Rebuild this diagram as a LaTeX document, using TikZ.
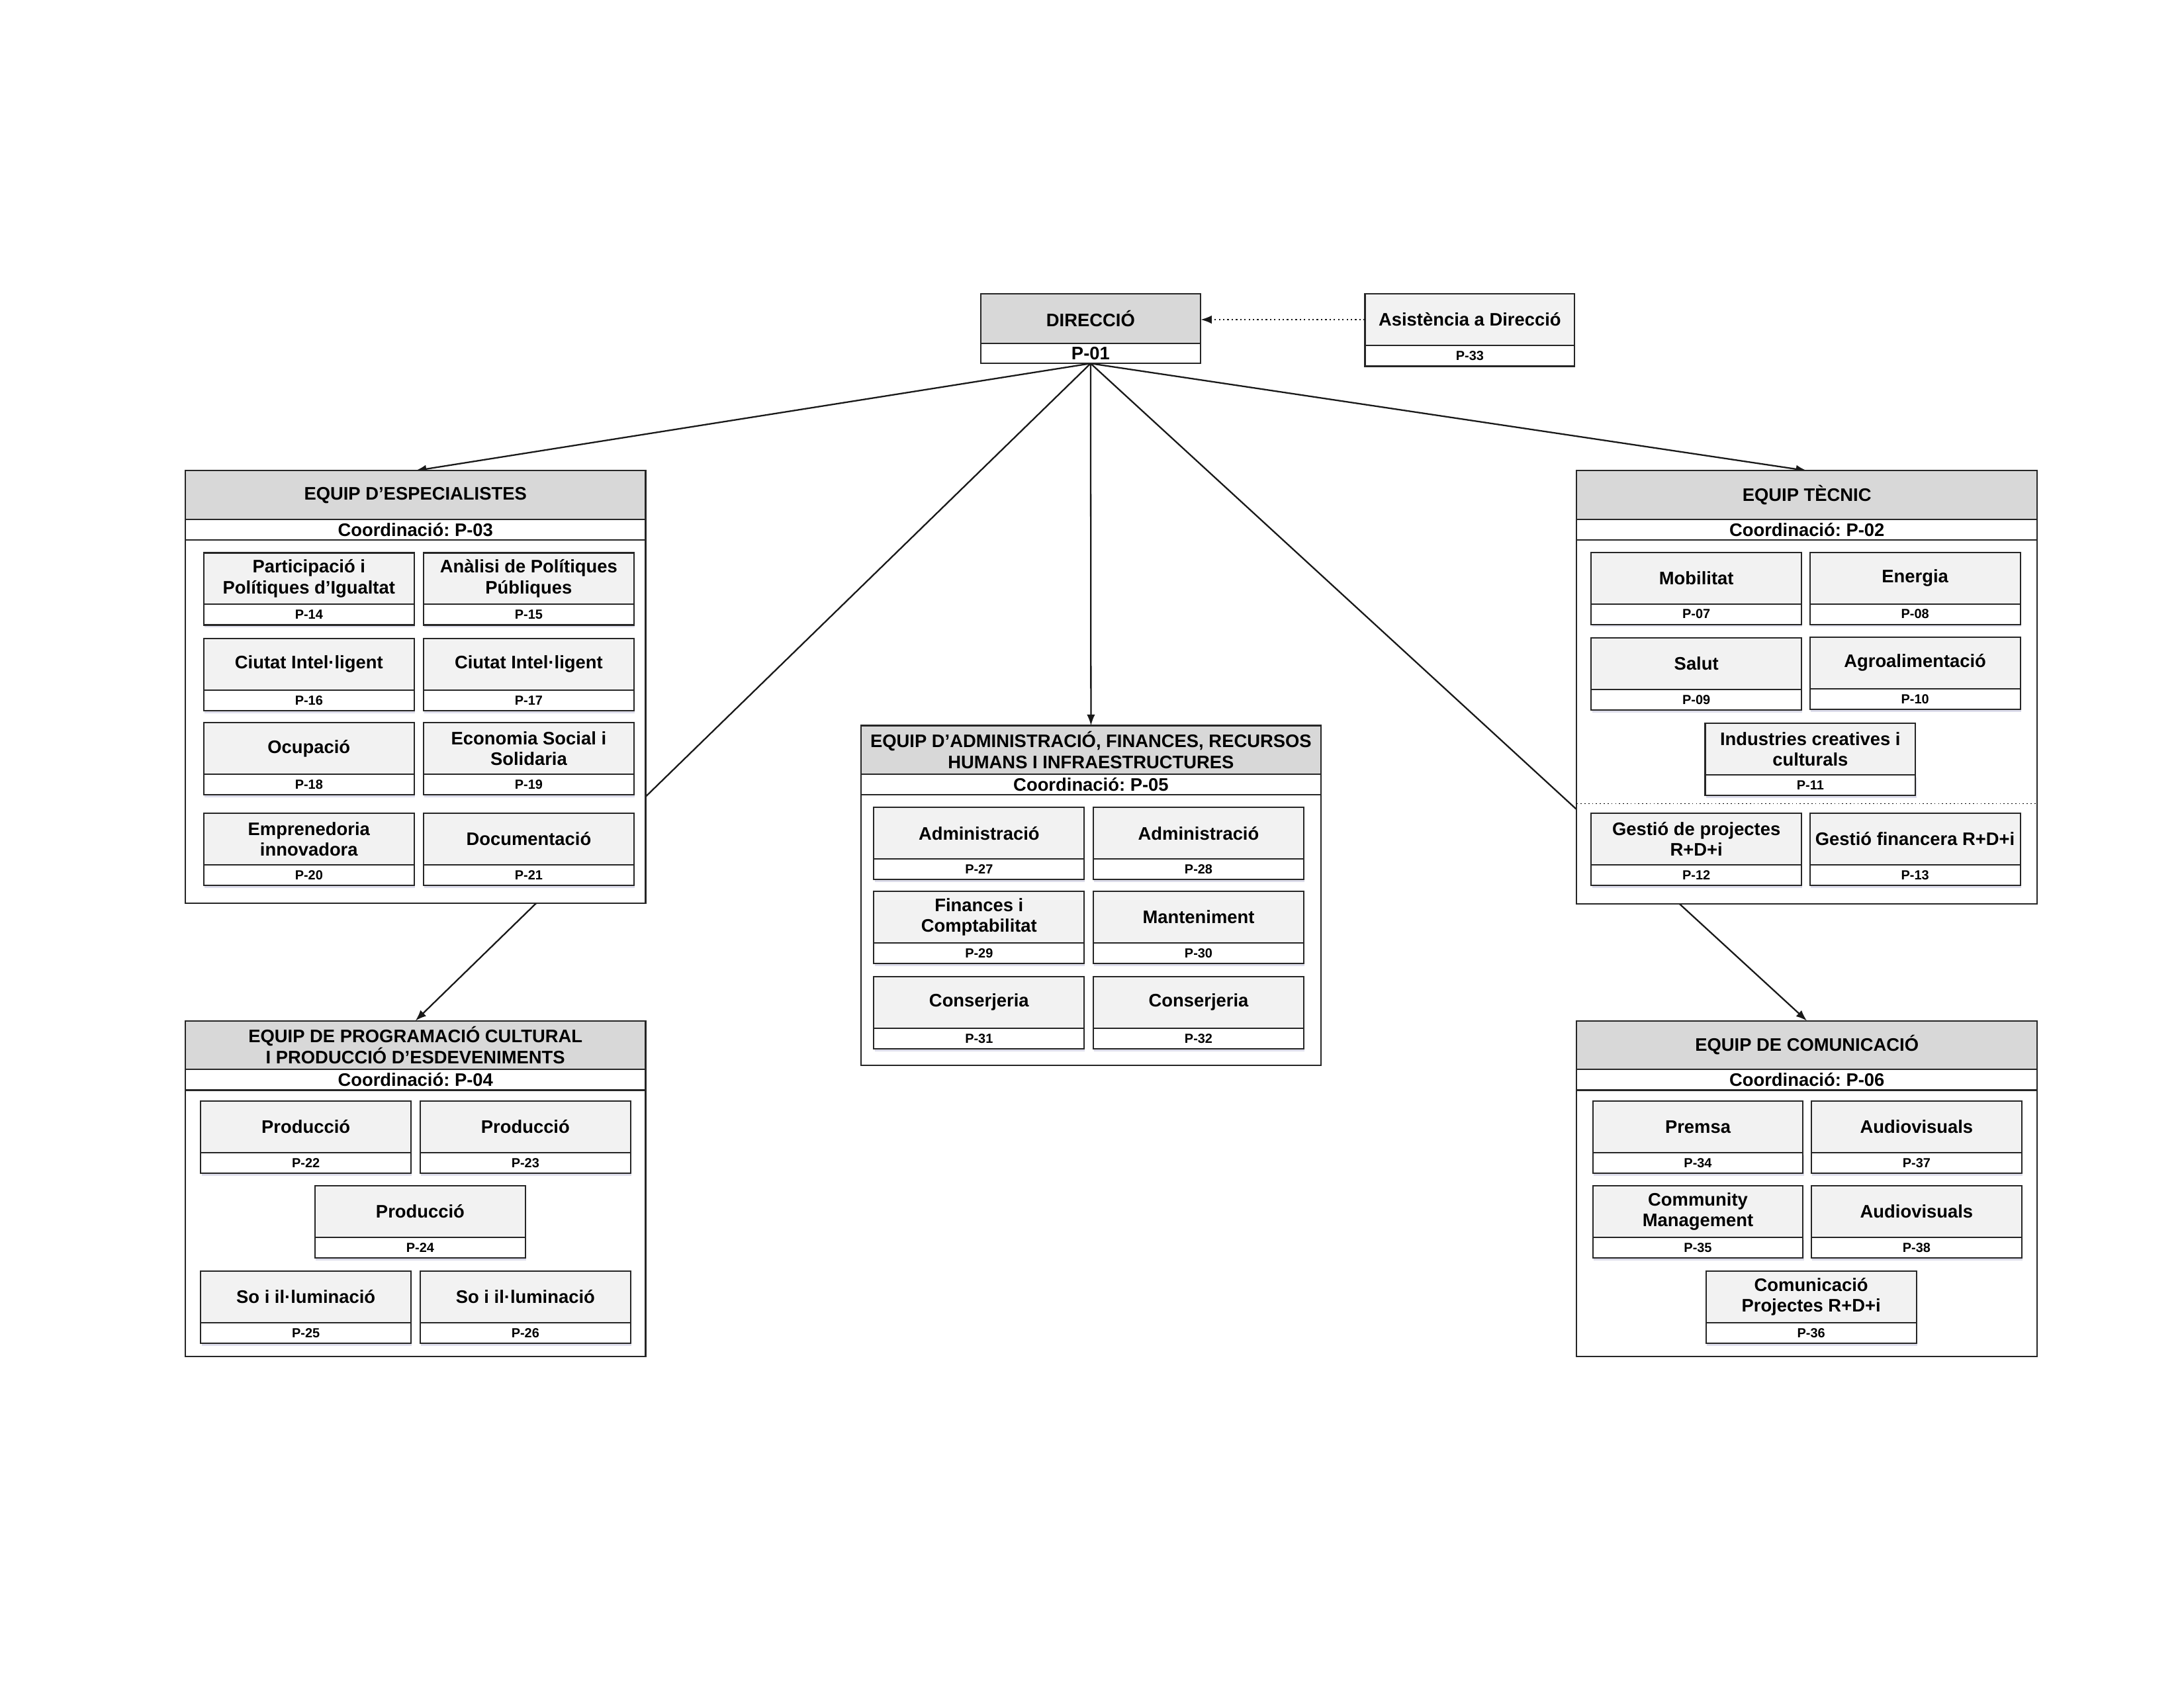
\documentclass[tikz,border=0pt]{standalone}
\usepackage{fontspec}
\setmainfont{Liberation Sans}
\frenchspacing
\usetikzlibrary{arrows.meta,backgrounds,shadows}

\definecolor{headgray}{HTML}{D8D8D8}
\definecolor{subgray}{HTML}{F2F2F2}
\def\pxu{0.017819cm}

\newcommand{\posbox}[5]{%
  \node[subhead,anchor=north west] (#1) at (#2,#3) {#4};
  \node[subcode,anchor=north] (#1-c) at (#1.south) {#5};
}

\begin{document}
\begin{tikzpicture}[x=0.017819cm,y=-0.017819cm,
    every node/.style={outer sep=0pt,inner sep=1pt,align=center,draw=black!85,line width=0.5pt},
    bigtext/.style={font=\bfseries\fontsize{6.6}{7.6}\selectfont},
    smalltext/.style={font=\bfseries\fontsize{4.8}{5.5}\selectfont},
    teamframe/.style={fill=white,anchor=north west,minimum width=330.5*\pxu},
    teamhead/.style={bigtext,fill=headgray,anchor=north,minimum width=330.5*\pxu,minimum height=35*\pxu},
    coordrow/.style={bigtext,fill=white,anchor=north,minimum width=330.5*\pxu,minimum height=14.8*\pxu,inner sep=0pt},
    subhead/.style={bigtext,fill=subgray,minimum width=151*\pxu,minimum height=37*\pxu},
    subcode/.style={smalltext,fill=white,minimum width=151*\pxu,minimum height=14.8*\pxu,inner sep=0pt,
      drop shadow={shadow xshift=0.3pt,shadow yshift=-0.9pt,fill=blue!25!gray!35,opacity=0.6}},
    conn/.style={line width=0.55pt,draw=black!90,-{Latex[length=4pt,width=3pt]}}]
\useasboundingbox (0,0) rectangle (1568,1212);

\node[bigtext,fill=headgray,anchor=north west,minimum width=158*\pxu,minimum height=35.7*\pxu] (dir) at (704,211) {DIRECCIÓ};
\node[bigtext,fill=white,anchor=north,minimum width=158*\pxu,minimum height=14.3*\pxu,inner sep=0pt] (dir-c) at (dir.south) {P-01};

\node[bigtext,fill=subgray,anchor=north west,minimum width=150.5*\pxu,minimum height=37*\pxu] (asis) at (980,211) {Asistència a Direcció};
\node[smalltext,fill=white,anchor=north,minimum width=150.5*\pxu,minimum height=15*\pxu,inner sep=0pt] (asis-c) at (asis.south) {P-33};

\node[teamframe,minimum height=310.5*\pxu] (esp-box) at (133,338) {};
\node[teamhead] (esp) at (esp-box.north) {EQUIP D’ESPECIALISTES};
\node[coordrow] (esp-c) at (esp.south) {Coordinació: P-03};
\posbox{p14}{146.3}{397}{Participació i\\Polítiques d’Igualtat}{P-14}
\posbox{p15}{304.1}{397}{Anàlisi de Polítiques\\Públiques}{P-15}
\posbox{p16}{146.3}{458.5}{Ciutat Intel·ligent}{P-16}
\posbox{p17}{304.1}{458.5}{Ciutat Intel·ligent}{P-17}
\posbox{p18}{146.3}{519}{Ocupació}{P-18}
\posbox{p19}{304.1}{519}{Economia Social i\\Solidaria}{P-19}
\posbox{p20}{146.3}{584}{Emprenedoria\\innovadora}{P-20}
\posbox{p21}{304.1}{584}{Documentació}{P-21}

\node[teamframe,minimum height=311*\pxu] (tec-box) at (1132,338) {};
\node[teamhead] (tec) at (tec-box.north) {EQUIP TÈCNIC};
\node[coordrow] (tec-c) at (tec.south) {Coordinació: P-02};
\posbox{p07}{1142.4}{396.6}{Mobilitat}{P-07}
\posbox{p08}{1299.4}{396.6}{Energia}{P-08}
\posbox{p09}{1142.4}{458}{Salut}{P-09}
\posbox{p10}{1299.4}{457.5}{Agroalimentació}{P-10}
\posbox{p11}{1224.2}{519.4}{Industries creatives i\\culturals}{P-11}
\draw[densely dotted,line width=0.4pt] (1132,577) -- (1462,577);
\posbox{p12}{1142.4}{584}{Gestió de projectes\\R+D+i}{P-12}
\posbox{p13}{1299.4}{584}{Gestió financera R+D+i}{P-13}

\node[teamframe,minimum height=244*\pxu] (adm-box) at (618,521) {};
\node[teamhead] (adm) at (adm-box.north) {EQUIP D’ADMINISTRACIÓ, FINANCES, RECURSOS\\HUMANS I INFRAESTRUCTURES};
\node[coordrow] (adm-c) at (adm.south) {Coordinació: P-05};
\posbox{p27}{627.4}{579.8}{Administració}{P-27}
\posbox{p28}{785}{579.8}{Administració}{P-28}
\posbox{p29}{627.4}{640.1}{Finances i\\Comptabilitat}{P-29}
\posbox{p30}{785}{640.1}{Manteniment}{P-30}
\posbox{p31}{627.4}{701.3}{Conserjeria}{P-31}
\posbox{p32}{785}{701.3}{Conserjeria}{P-32}

\node[teamframe,minimum height=241*\pxu] (prog-box) at (133,733) {};
\node[teamhead] (prog) at (prog-box.north) {EQUIP DE PROGRAMACIÓ CULTURAL\\I PRODUCCIÓ D’ESDEVENIMENTS};
\node[coordrow] (prog-c) at (prog.south) {Coordinació: P-04};
\posbox{p22}{144.1}{790.7}{Producció}{P-22}
\posbox{p23}{301.7}{790.7}{Producció}{P-23}
\posbox{p24}{226.2}{851.5}{Producció}{P-24}
\posbox{p25}{144.1}{912.7}{So i il·luminació}{P-25}
\posbox{p26}{301.7}{912.7}{So i il·luminació}{P-26}

\node[teamframe,minimum height=241*\pxu] (com-box) at (1132,733) {};
\node[teamhead] (com) at (com-box.north) {EQUIP DE COMUNICACIÓ};
\node[coordrow] (com-c) at (com.south) {Coordinació: P-06};
\posbox{p34}{1143.5}{790.7}{Premsa}{P-34}
\posbox{p37}{1300.5}{790.7}{Audiovisuals}{P-37}
\posbox{p35}{1143.5}{851.5}{Community\\Management}{P-35}
\posbox{p38}{1300.5}{851.5}{Audiovisuals}{P-38}
\posbox{p36}{1224.8}{912.7}{Comunicació\\Projectes R+D+i}{P-36}

\begin{scope}[on background layer]
\draw[conn] (dir-c.south) -- (esp.north);
\draw[conn] (dir-c.south) -- (tec.north);
\draw[conn] (dir-c.south) -- (adm.north);
\draw[conn] (dir-c.south) -- (prog.north);
\draw[conn] (dir-c.south) -- (com.north);
\end{scope}
\draw[conn,densely dotted] (asis.west) -- (asis.west -| dir.east);
\end{tikzpicture}
\end{document}
